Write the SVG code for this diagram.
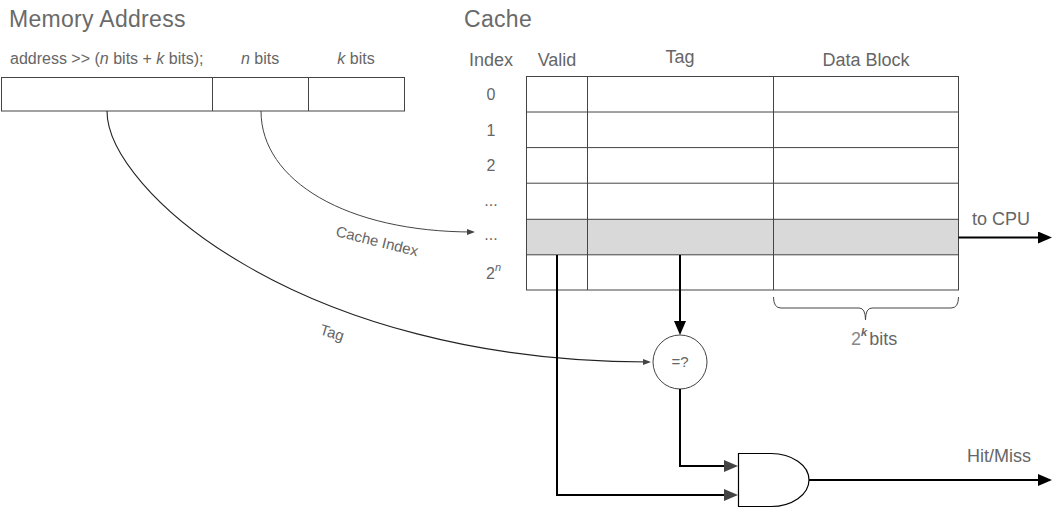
<svg xmlns="http://www.w3.org/2000/svg" width="1060" height="515" viewBox="0 0 1060 515">
<defs>
<style>
text{font-family:"Liberation Sans",Arial,sans-serif;fill:#666}
.title{font-size:23px;letter-spacing:0.3px;fill:#6a6a6a}
.hdr{font-size:18px}
.lbl{font-size:16px}
.sm{font-size:15px}
.cell{fill:#fff;stroke:#444;stroke-width:1}
.grid{stroke:#444;stroke-width:1;fill:none}
.thick{stroke:#000;stroke-width:2;fill:none}
.thin{stroke:#222;stroke-width:1.1;fill:none}
</style>
<marker id="ab" markerUnits="userSpaceOnUse" markerWidth="14" markerHeight="12" viewBox="0 0 14 12" refX="9" refY="6" orient="auto">
<path d="M0,0 L14,6 L0,12 z" fill="#000"/>
</marker>
<marker id="ag" markerUnits="userSpaceOnUse" markerWidth="14" markerHeight="12" viewBox="0 0 14 12" refX="9" refY="6" orient="auto">
<path d="M0,0 L14,6 L0,12 z" fill="#444"/>
</marker>
<marker id="as" markerUnits="userSpaceOnUse" markerWidth="8" markerHeight="6" viewBox="0 0 8 6" refX="6" refY="3" orient="auto">
<path d="M0,0 L8,3 L0,6 z" fill="#444"/>
</marker>
</defs>

<g id="titles">
<text class="title" x="9" y="27">Memory Address</text>
<text class="title" x="464" y="27">Cache</text>
</g>

<g id="memory-address">
<text class="lbl" x="10" y="64">address &gt;&gt; (<tspan font-style="italic">n</tspan> bits + <tspan font-style="italic">k</tspan> bits);</text>
<text class="lbl" x="260" y="64" text-anchor="middle"><tspan font-style="italic">n</tspan> bits</text>
<text class="lbl" x="356" y="64" text-anchor="middle"><tspan font-style="italic">k</tspan> bits</text>
<rect class="cell" x="1.5" y="77.5" width="403" height="33.5"/>
<line class="grid" x1="212.5" y1="77.5" x2="212.5" y2="111"/>
<line class="grid" x1="308.5" y1="77.5" x2="308.5" y2="111"/>
</g>

<g id="cache">
<text class="hdr" x="491" y="66" text-anchor="middle">Index</text>
<text class="hdr" x="557" y="66" text-anchor="middle">Valid</text>
<text class="hdr" x="680" y="63" text-anchor="middle">Tag</text>
<text class="hdr" x="866" y="66" text-anchor="middle">Data Block</text>
<rect x="526.5" y="219.3" width="432" height="35.5" fill="#d9d9d9"/>
<rect x="526.5" y="76.5" width="432" height="213.5" class="grid"/>
<g class="grid">
<line x1="526.5" y1="112" x2="958.5" y2="112"/>
<line x1="526.5" y1="147.6" x2="958.5" y2="147.6"/>
<line x1="526.5" y1="183.2" x2="958.5" y2="183.2"/>
<line x1="526.5" y1="219.3" x2="958.5" y2="219.3"/>
<line x1="526.5" y1="254.8" x2="958.5" y2="254.8"/>
<line x1="587.5" y1="76.5" x2="587.5" y2="290"/>
<line x1="773.5" y1="76.5" x2="773.5" y2="290"/>
</g>
<text class="lbl" x="491" y="100" text-anchor="middle">0</text>
<text class="lbl" x="491" y="136" text-anchor="middle">1</text>
<text class="lbl" x="491" y="171" text-anchor="middle">2</text>
<text class="lbl" x="491" y="206" text-anchor="middle">...</text>
<text class="lbl" x="491" y="240" text-anchor="middle">...</text>
<text class="lbl" x="486" y="279">2<tspan font-size="11" font-style="italic" dy="-8">n</tspan></text>
</g>

<g id="brace">
<path class="grid" d="M773.5,297 Q773.5,308 781,308 H859 Q865.5,308 865.5,320 Q865.5,308 872,308 H951 Q958.5,308 958.5,297" stroke="#222"/>
<text class="hdr" x="851" y="345"><tspan fill="#888">2</tspan><tspan font-size="11" font-style="italic" font-weight="bold" dy="-9">k</tspan><tspan dx="2" dy="9">bits</tspan></text>
</g>

<g id="comparator">
<circle cx="680" cy="362" r="27" fill="#fff" stroke="#444" stroke-width="1"/>
<text class="sm" x="680" y="367" text-anchor="middle">=?</text>
</g>

<g id="and-gate">
<path d="M738.5,453.5 H771 A38,26.5 0 0 1 771,506.5 H738.5 Z" fill="#fff" stroke="#000" stroke-width="1.2"/>
</g>

<g id="output-labels">
<text class="hdr" x="972" y="225">to CPU</text>
<text class="hdr" x="967" y="462">Hit/Miss</text>
</g>

<g id="connectors">
<path class="thin" d="M107,111 C107,190 300,362 649,362" marker-end="url(#as)"/>
<path d="M261,111 C261,181 347,232 473,232" stroke="#444" stroke-width="1" fill="none" marker-end="url(#as)"/>
<path class="thick" d="M680,255 V330" marker-end="url(#ab)"/>
<path class="thick" d="M680,389 V466 H733" stroke="#222" marker-end="url(#ag)"/>
<path class="thick" d="M557,255 V495 H733" stroke="#222" marker-end="url(#ag)"/>
<path class="thick" d="M958.5,237.5 H1047" marker-end="url(#ab)"/>
<path class="thick" d="M809,480 H1047" stroke="#222" marker-end="url(#ab)"/>
<text class="sm" transform="translate(335,236) rotate(14)">Cache Index</text>
<text class="sm" transform="translate(319,334) rotate(17)">Tag</text>
</g>
</svg>
